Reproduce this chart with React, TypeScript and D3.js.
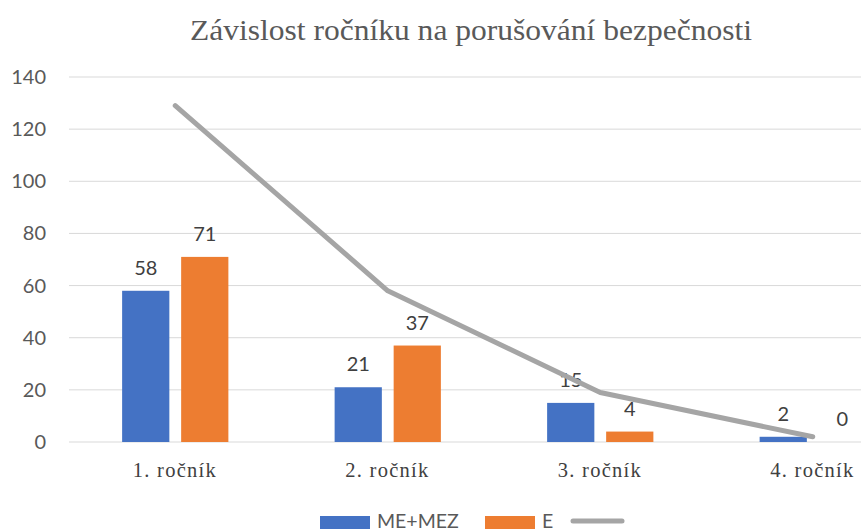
import React from "react";
import * as d3 from "d3";

const categories = ["1. ročník", "2. ročník", "3. ročník", "4. ročník"];
const seriesNames = ["ME+MEZ", "E"];
const meMez = [58, 21, 15, 2];
const eVals = [71, 37, 4, 0];
const totals = [129, 58, 19, 2];
const yTicks = [0, 20, 40, 60, 80, 100, 120, 140];
const title = "Závislost ročníku na porušování bezpečnosti";

const colors = ["#4472C4", "#ED7D31"];
const lineColor = "#A5A5A5";

export default function App() {
  const W = 861, H = 531;
  const left = 69, right = 919, top = 77, bottom = 442;
  const x = d3.scaleBand<string>().domain(categories).range([left, right]).paddingInner(0).paddingOuter(0);
  const bw = x.bandwidth();
  const x1 = d3.scaleBand<string>().domain(seriesNames).range([bw * 0.25, bw * 0.75]).paddingInner(0.2);
  const y = d3.scaleLinear().domain([0, 140]).range([bottom, top]);
  const values = [meMez, eVals];
  const line = d3.line<number>().x((_, i) => (x(categories[i]) as number) + bw / 2).y((d) => y(d));
  const sans = "Lato, 'Liberation Sans', sans-serif";
  const serif = "'Liberation Serif', 'Times New Roman', serif";
  return (
    <div style={{ position: "fixed", left: 0, top: 0 }}>
      <svg width={W} height={H} style={{ display: "block", background: "#fff" }}>
        <text x={471} y={40} textAnchor="middle" fontFamily={serif} fontSize={29} fill="#595959" textLength={562} lengthAdjust="spacingAndGlyphs">{title}</text>
        {yTicks.map((t) => (
          <g key={t}>
            <line x1={left} x2={W} y1={y(t)} y2={y(t)} stroke="#D9D9D9" strokeWidth={1} />
            <text x={46} y={y(t)} dy="0.35em" textAnchor="end" fontFamily={sans} fontSize={20} fill="#595959">{t}</text>
          </g>
        ))}
        {categories.map((c, i) => (
          <g key={c}>
            {seriesNames.map((s, j) => {
              const bx = (x(c) as number) + (x1(s) as number);
              const v = values[j][i];
              return (
                <g key={s}>
                  <rect x={bx} y={y(v)} width={x1.bandwidth()} height={bottom - y(v)} fill={colors[j]} />
                  <text x={bx + x1.bandwidth() / 2} y={y(v) - 16} textAnchor="middle" fontFamily={sans} fontSize={20} fill="#404040">{v}</text>
                </g>
              );
            })}
            <text x={(x(c) as number) + bw / 2 - 1} y={477} textAnchor="middle" fontFamily={serif} fontSize={20.5} fill="#404040" textLength={83} lengthAdjust="spacing">{c}</text>
          </g>
        ))}
        <path d={line(totals) || ""} fill="none" stroke={lineColor} strokeWidth={5} strokeLinecap="round" strokeLinejoin="round" />
        <g>
          <rect x={320} y={516} width={50} height={13} fill={colors[0]} />
          <text x={377} y={521} dy="0.35em" fontFamily={sans} fontSize={19.5} fill="#595959">{seriesNames[0]}</text>
          <rect x={485} y={516} width={50} height={13} fill={colors[1]} />
          <text x={542} y={521} dy="0.35em" fontFamily={sans} fontSize={19.5} fill="#595959">{seriesNames[1]}</text>
          <line x1={573} x2={622} y1={521} y2={521} stroke={lineColor} strokeWidth={5} strokeLinecap="round" />
        </g>
      </svg>
    </div>
  );
}
